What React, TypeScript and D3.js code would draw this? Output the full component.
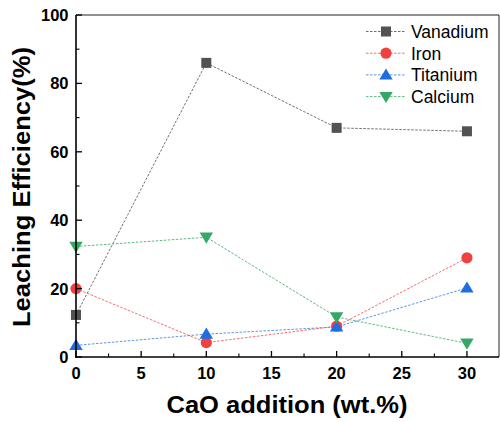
import React from "react";
import * as d3 from "d3";

const xValues = [0, 10, 20, 30];
const vanadium = [12.3, 86, 67, 66];
const iron = [20, 4.2, 9, 29];
const titanium = [3.4, 6.7, 8.8, 20.2];
const calcium = [32.3, 35, 11.7, 4];
const seriesNames = ["Vanadium", "Iron", "Titanium", "Calcium"];
const xTicks = [0, 5, 10, 15, 20, 25, 30];
const yTicks = [0, 20, 40, 60, 80, 100];

const colors = ["#525252", "#f04040", "#1f6de0", "#35a866"];
const lineColors = ["#707070", "#f07070", "#5a95e8", "#5fbb80"];
const shapes = ["square", "circle", "triangle", "triangleDown"];

const W = 500, H = 422;
const left = 76, right = 499, top = 15, bottom = 357;
const FONT = "Arial, 'Liberation Sans', sans-serif";

function Marker({ shape, x, y, color }: { shape: string; x: number; y: number; color: string }) {
  if (shape === "square") return <rect x={x - 5} y={y - 5} width={10} height={10} fill={color} />;
  if (shape === "circle") return <circle cx={x} cy={y} r={5.6} fill={color} />;
  if (shape === "triangle")
    return <path d={`M${x},${y - 6.5}L${x + 6.7},${y + 4.7}L${x - 6.7},${y + 4.7}Z`} fill={color} />;
  return <path d={`M${x},${y + 6.5}L${x + 6.7},${y - 4.7}L${x - 6.7},${y - 4.7}Z`} fill={color} />;
}

export default function App() {
  const x = d3.scaleLinear().domain([0, 32.46]).range([left, right]);
  const y = d3.scaleLinear().domain([0, 100]).range([bottom, top]);
  const data = [vanadium, iron, titanium, calcium];
  const line = d3
    .line<number>()
    .x((_, i) => x(xValues[i]))
    .y((d) => y(d));
  const xMinor = d3.range(0, 32.5, 2.5).filter((v) => v % 5 !== 0);
  const yMinor = d3.range(10, 100, 20);

  return (
    <svg width={W} height={H} style={{ position: "absolute", left: 0, top: 0 }} fontFamily={FONT}>
      <rect width={W} height={H} fill="white" />
      {/* frame */}
      <line x1={left} x2={right} y1={top} y2={top} stroke="#222" strokeWidth={1} />
      <line x1={right} x2={right} y1={top} y2={bottom} stroke="#222" strokeWidth={1} />
      {/* series lines */}
      {data.map((s, k) => (
        <path key={k} d={line(s) || ""} fill="none" stroke={lineColors[k]} strokeWidth={1} strokeDasharray="2.5,1.5" />
      ))}
      {data.map((s, k) =>
        s.map((v, i) => <Marker key={`${k}-${i}`} shape={shapes[k]} x={x(xValues[i])} y={y(v)} color={colors[k]} />)
      )}
      {/* axes */}
      <line x1={left} x2={left} y1={top} y2={bottom + 0.75} stroke="#000" strokeWidth={1.6} />
      <line x1={left - 0.75} x2={right} y1={bottom} y2={bottom} stroke="#000" strokeWidth={1.6} />
      {xTicks.map((t) => (
        <g key={t}>
          <line x1={x(t)} x2={x(t)} y1={bottom} y2={bottom - 6} stroke="#000" strokeWidth={1.3} />
          <text x={x(t)} y={379} textAnchor="middle" fontSize={16.5} fontWeight="bold">{t}</text>
        </g>
      ))}
      {xMinor.map((t) => (
        <line key={t} x1={x(t)} x2={x(t)} y1={bottom} y2={bottom - 3.5} stroke="#000" strokeWidth={1.1} />
      ))}
      {yTicks.map((t) => (
        <g key={t}>
          <line x1={left} x2={left + 6} y1={y(t)} y2={y(t)} stroke="#000" strokeWidth={1.3} />
          <text x={68.5} y={y(t) + 6} textAnchor="end" fontSize={16.5} fontWeight="bold">{t}</text>
        </g>
      ))}
      {yMinor.map((t) => (
        <line key={t} x1={left} x2={left + 3.5} y1={y(t)} y2={y(t)} stroke="#000" strokeWidth={1.1} />
      ))}
      {/* titles */}
      <text x={287} y={413} textAnchor="middle" fontSize={24} fontWeight="bold" textLength={241} lengthAdjust="spacingAndGlyphs">
        CaO addition (wt.%)
      </text>
      <text transform={`translate(29.5,187) rotate(-90)`} textAnchor="middle" fontSize={24} fontWeight="bold" textLength={280} lengthAdjust="spacingAndGlyphs">
        Leaching Efficiency(%)
      </text>
      {/* legend */}
      {seriesNames.map((n, k) => {
        const ly = 31.5 + k * 21.7;
        return (
          <g key={n}>
            <line x1={366} x2={406} y1={ly} y2={ly} stroke={lineColors[k]} strokeWidth={1} strokeDasharray="2.5,1.5" />
            <Marker shape={shapes[k]} x={386} y={ly} color={colors[k]} />
            <text x={411} y={ly + 6.3} fontSize={17.5}>{n}</text>
          </g>
        );
      })}
    </svg>
  );
}
